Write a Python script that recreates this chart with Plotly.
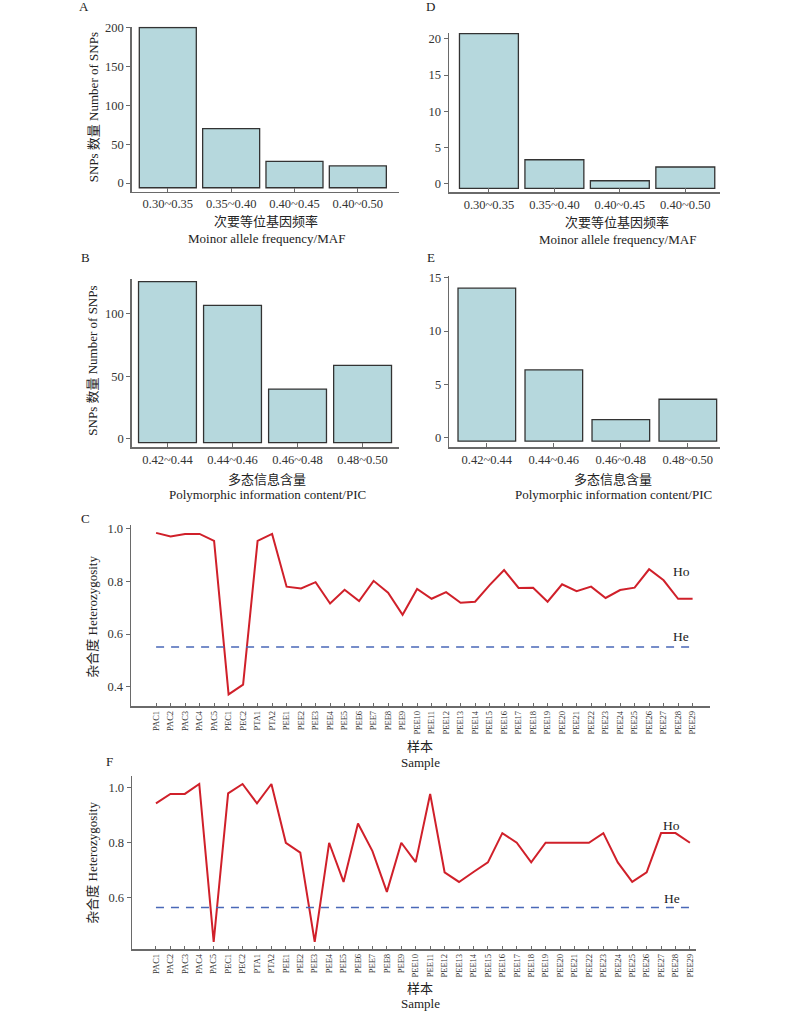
import plotly.graph_objects as go

# ---------------- data ----------------
maf_bins = ["0.30~0.35", "0.35~0.40", "0.40~0.45", "0.40~0.50"]
pic_bins = ["0.42~0.44", "0.44~0.46", "0.46~0.48", "0.48~0.50"]

maf_counts_A = [200, 70, 28, 22]
pic_counts_B = [125.6, 106.7, 39.7, 58.7]
maf_counts_D = [20.7, 3.3, 0.4, 2.3]
pic_counts_E = [14.0, 6.36, 1.71, 3.62]

samples = ["PAC1", "PAC2", "PAC3", "PAC4", "PAC5", "PEC1", "PEC2", "PTA1", "PTA2"] + \
          ["PEE%d" % i for i in range(1, 30)]

ho_C = [0.984, 0.970, 0.980, 0.980, 0.954, 0.371, 0.408, 0.954, 0.980,
        0.780, 0.773, 0.797, 0.716, 0.768, 0.725, 0.802, 0.757, 0.673, 0.771,
        0.734, 0.759, 0.719, 0.723, 0.786, 0.843, 0.775, 0.776, 0.723, 0.789,
        0.763, 0.780, 0.737, 0.767, 0.776, 0.846, 0.804, 0.734, 0.734]
he_C = 0.551

ho_F = [0.942, 0.976, 0.976, 1.012, 0.440, 0.978, 1.012, 0.942, 1.012,
        0.799, 0.763, 0.440, 0.799, 0.657, 0.869, 0.769, 0.621, 0.799, 0.729,
        0.976, 0.692, 0.657, 0.693, 0.728, 0.834, 0.799, 0.728, 0.799, 0.799,
        0.799, 0.799, 0.834, 0.728, 0.657, 0.692, 0.834, 0.834, 0.799]
he_F = 0.564

# ---------------- style ----------------
W, H = 800, 1011
FONT = "'Liberation Serif', 'Times New Roman', 'Noto Sans CJK SC', serif"
BAR_FILL = "#b6d8dd"
BAR_LINE = "#333333"
AX_COL = "#6a6a6a"
HO_COL = "#d0202a"
HE_COL = "#4a68b8"


def px_x(v):
    return v / W


def px_y(v):
    return 1 - v / H


fig = go.Figure()

bar_panels = [
    # (axis id, cats, values, base offset, width, xdom px, ydom px, xrange, yrange, ticks)
    ("", maf_bins, maf_counts_A, -6, 0.9, (131.7, 399), (26.7, 191.7), (-0.57, 3.65), (-11.1, 201), [0, 50, 100, 150, 200]),
    ("2", maf_bins, maf_counts_D, -0.64, 0.9, (449, 720), (33, 192), (-0.61, 3.53), (-1.15, 20.8), [0, 5, 10, 15, 20]),
    ("3", pic_bins, pic_counts_B, -3.2, 0.89, (131.7, 399), (279.3, 447.3), (-0.55, 3.56), (-6.9, 127.5), [0, 50, 100]),
    ("4", pic_bins, pic_counts_E, -0.3, 0.86, (449.3, 720), (276, 447.3), (-0.56, 3.48), (-0.87, 15.14), [0, 5, 10, 15]),
]

layout_axes = {}
for ax, cats, vals, base, width, xd, yd, xr, yr, yt in bar_panels:
    fig.add_trace(go.Bar(
        x=cats, y=[v - base for v in vals], base=base, width=width,
        marker=dict(color=BAR_FILL, line=dict(color=BAR_LINE, width=1.3)),
        xaxis="x" + ax, yaxis="y" + ax, showlegend=False,
    ))
    layout_axes["xaxis" + ax] = dict(
        domain=[px_x(xd[0]), px_x(xd[1])], anchor="y" + ax, type="category",
        range=list(xr), showline=True, linecolor=AX_COL, linewidth=1.5,
        ticks="inside", ticklen=4, tickcolor=AX_COL, tickwidth=1, automargin=False,
        showgrid=False, zeroline=False, tickfont=dict(size=12.5, color="#333"),
    )
    layout_axes["yaxis" + ax] = dict(
        domain=[px_y(yd[1]), px_y(yd[0])], anchor="x" + ax, automargin=False,
        range=list(yr), tickvals=yt, showline=True, linecolor=AX_COL, linewidth=1.5,
        ticks="outside", ticklen=4, tickcolor=AX_COL, tickwidth=1,
        showgrid=False, zeroline=False, tickfont=dict(size=12.5, color="#333"),
    )

line_panels = [
    ("5", ho_C, he_C, (131, 710), (525, 706), (-1.73, 38.2), (0.327, 1.014), (36.2, 0.839), (36.2, 0.592)),
    ("6", ho_F, he_F, (132, 696), (776, 949), (-1.66, 37.42), (0.414, 1.041), (35.75, 0.861), (35.75, 0.598)),
]

annotations = []
for ax, ho, he, xd, yd, xr, yr, ho_pos, he_pos in line_panels:
    fig.add_trace(go.Scatter(
        x=samples, y=ho, mode="lines", line=dict(color=HO_COL, width=2),
        xaxis="x" + ax, yaxis="y" + ax, showlegend=False,
    ))
    fig.add_trace(go.Scatter(
        x=[samples[0], samples[-1]], y=[he, he], mode="lines",
        line=dict(color=HE_COL, width=1.5, dash="8px,7px"),
        xaxis="x" + ax, yaxis="y" + ax, showlegend=False,
    ))
    layout_axes["xaxis" + ax] = dict(
        domain=[px_x(xd[0]), px_x(xd[1])], anchor="y" + ax, type="category",
        range=list(xr), showline=True, linecolor=AX_COL, linewidth=1.5,
        ticks="inside", ticklen=3, tickcolor=AX_COL, tickwidth=1, automargin=False,
        tickangle=-90, showgrid=False, zeroline=False,
        tickfont=dict(size=8.5, color="#333"),
    )
    layout_axes["yaxis" + ax] = dict(
        domain=[px_y(yd[1]), px_y(yd[0])], anchor="x" + ax, automargin=False,
        range=list(yr), tickvals=[0.4, 0.6, 0.8, 1.0], ticktext=["0.4", "0.6", "0.8", "1.0"],
        showline=True, linecolor=AX_COL, linewidth=1.5,
        ticks="outside", ticklen=4, tickcolor=AX_COL, tickwidth=1,
        showgrid=False, zeroline=False, tickfont=dict(size=12.5, color="#333"),
    )
    annotations.append(dict(x=ho_pos[0], y=ho_pos[1], xref="x" + ax, yref="y" + ax,
                            text="Ho", showarrow=False, font=dict(size=13.5, color="#222")))
    annotations.append(dict(x=he_pos[0], y=he_pos[1], xref="x" + ax, yref="y" + ax,
                            text="He", showarrow=False, font=dict(size=13.5, color="#222")))


def txt(x, y, s, size=13, angle=0):
    annotations.append(dict(x=px_x(x), y=px_y(y), xref="paper", yref="paper", text=s,
                            showarrow=False, textangle=angle, xanchor="center", yanchor="middle",
                            font=dict(size=size, color="#222")))


# panel letters
txt(84, 7, "A"); txt(431, 7, "D"); txt(85, 258, "B"); txt(431, 258, "E")
txt(85, 518, "C"); txt(109, 761, "F")

# x titles
txt(266, 221.5, "次要等位基因频率")
txt(266, 238, "Moinor allele frequency/MAF")
txt(617, 222.5, "次要等位基因频率")
txt(617, 239.3, "Moinor allele frequency/MAF")
txt(267, 479.3, "多态信息含量")
txt(267, 494.5, "Polymorphic information content/PIC")
txt(613, 480, "多态信息含量")
txt(613, 495, "Polymorphic information content/PIC")
txt(420, 746.5, "样本")
txt(420, 762, "Sample")
txt(420, 988, "样本")
txt(420, 1003.5, "Sample")

# y titles
txt(93, 107.3, "SNPs 数量 Number of SNPs", angle=-90)
txt(93, 360.7, "SNPs 数量 Number of SNPs", angle=-90)
txt(93, 616.7, "杂合度 Heterozygosity", angle=-90)
txt(93, 862.7, "杂合度 Heterozygosity", angle=-90)

fig.update_layout(
    width=W, height=H, margin=dict(l=0, r=0, t=0, b=0, autoexpand=False),
    paper_bgcolor="white", plot_bgcolor="white",
    font=dict(family=FONT, color="#222"),
    annotations=annotations, showlegend=False, hovermode=False,
    **layout_axes,
)

fig.write_html("out.html",
               config={"displayModeBar": False, "staticPlot": True},
               post_script="document.body.style.margin='0';document.body.style.padding='0';"
                           "document.documentElement.style.overflow='hidden';")
